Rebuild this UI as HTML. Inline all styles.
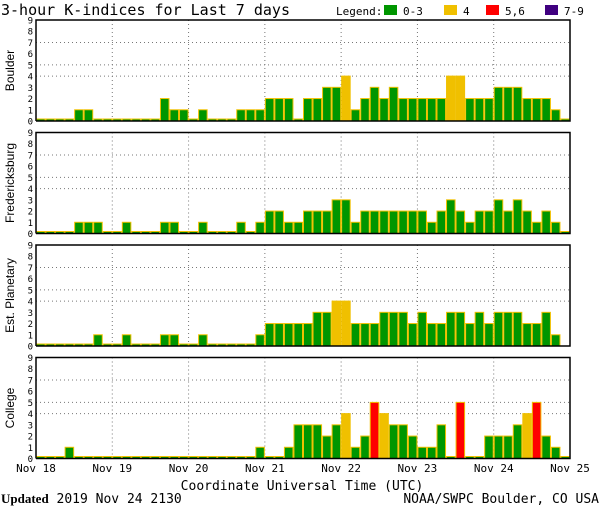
<!DOCTYPE html>
<html><head><meta charset="utf-8"><style>
body{margin:0;background:#fff;}
svg text{font-family:"DejaVu Sans Mono","Liberation Mono",monospace;}
</style></head><body>
<svg id="c" width="600" height="510" xmlns="http://www.w3.org/2000/svg">
<text x="1" y="15" font-size="15">3-hour K-indices for Last 7 days</text>
<g font-size="11">
<text x="336" y="15">Legend:</text>
<rect x="384" y="5" width="13" height="10" fill="#009600"/><text x="403" y="15">0-3</text>
<rect x="444" y="5" width="13" height="10" fill="#f0c000"/><text x="463" y="15">4</text>
<rect x="486" y="5" width="13" height="10" fill="#ff0000"/><text x="505" y="15">5,6</text>
<rect x="545" y="5" width="13" height="10" fill="#400080"/><text x="564" y="15">7-9</text>
</g>
<g id="panels"></g>
<text x="302" y="490" font-size="13" text-anchor="middle">Coordinate Universal Time (UTC)</text>
<text x="1" y="503" font-size="13"><tspan font-weight="bold" style="font-family:'Liberation Serif',serif">Updated</tspan> 2019 Nov 24 2130</text>
<text x="599" y="503" font-size="13" text-anchor="end">NOAA/SWPC Boulder, CO USA</text>
</svg>
<script>
const stations = ["Boulder","Fredericksburg","Est. Planetary","College"];
const boulder = [0,0,0,0,1,1,0,0,0,0,0,0,0,2,1,1,0,1,0,0,0,1,1,1,2,2,2,0,2,2,3,3,4,1,2,3,2,3,2,2,2,2,2,4,4,2,2,2,3,3,3,2,2,2,1,0];
const fredericksburg = [0,0,0,0,1,1,1,0,0,1,0,0,0,1,1,0,0,1,0,0,0,1,0,1,2,2,1,1,2,2,2,3,3,1,2,2,2,2,2,2,2,1,2,3,2,1,2,2,3,2,3,2,1,2,1,0];
const planetary = [0,0,0,0,0,0,1,0,0,1,0,0,0,1,1,0,0,1,0,0,0,0,0,1,2,2,2,2,2,3,3,4,4,2,2,2,3,3,3,2,3,2,2,3,3,2,3,2,3,3,3,2,2,3,1,-1];
const college = [0,0,0,1,0,0,0,0,0,0,0,0,0,0,0,0,0,0,0,0,0,0,0,1,0,0,1,3,3,3,2,3,4,1,2,5,4,3,3,2,1,1,3,0,5,0,0,2,2,2,3,4,5,2,1,0];
const series = [boulder,fredericksburg,planetary,college];
const yTicks = [0,1,2,3,4,5,6,7,8,9];
const dayLabels = ["Nov 18","Nov 19","Nov 20","Nov 21","Nov 22","Nov 23","Nov 24","Nov 25"];
const NS="http://www.w3.org/2000/svg";
const X0=36,X1=570,nBars=56,bw=(X1-X0)/nBars;
const tops=[20,132.5,245,357.5],PH=101;
function xs(i){return X0+i*bw;}
function color(v){return v>=7?"#400080":v>=5?"#ff0000":v>=4?"#f0c000":"#009600";}
function mk(t,a,p){const e=document.createElementNS(NS,t);for(const k in a)e.setAttribute(k,a[k]);p.appendChild(e);return e;}
const root=document.getElementById('panels');
series.forEach((data,p)=>{
  const top=tops[p],base=top+PH;
  const ys=v=>base-v*(PH/9);
  const g=mk('g',{},root);
  
  
  [4,5,7].forEach(v=>{const l=mk('line',{x1:X0,x2:X1,y1:ys(v),y2:ys(v),stroke:'#777','stroke-dasharray':'1,3'},g);
    
    });
  for(let d=1;d<7;d++){const l=mk('line',{x1:xs(d*8),x2:xs(d*8),y1:top,y2:base,stroke:'#777','stroke-dasharray':'1,3'},g);
    
    }
  data.forEach((v,i)=>{
    if(v<0)return;
    const h=Math.max(v*(PH/9),2);
    const r=mk('rect',{x:xs(i)+0.5,y:base-h,width:bw-1,height:h,fill:color(v),stroke:'#f0c000','stroke-width':1},g);
    
    
  });
  const f=mk('path',{d:`M${X0} ${base} V${top} H${X1} V${base} H${X0}`,fill:'none',stroke:'#000','stroke-width':1.5},g);
  
  
  yTicks.forEach(v=>{const t=mk('text',{x:33,y:ys(v)+3.5,'font-size':9,'text-anchor':'end'},g);t.textContent=v;
    
    });
  const cy=top+PH/2;
  const t=mk('text',{x:0,y:0,'text-anchor':'middle',transform:`translate(14,${cy}) rotate(-90)`,style:"font-family:'Liberation Sans',sans-serif;font-size:12px"},g);
  t.textContent=stations[p];
  
  
});
dayLabels.forEach((s,d)=>{const t=mk('text',{x:xs(d*8),y:472,'font-size':11,'text-anchor':'middle'},root);t.textContent=s;
  
  });
</script>
</body></html>
